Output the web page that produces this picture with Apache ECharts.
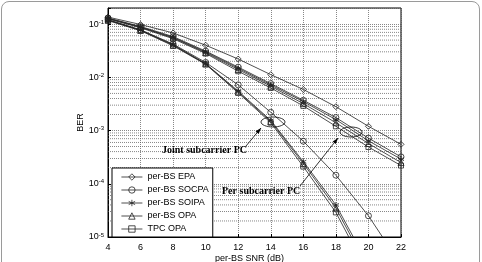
<!DOCTYPE html>
<html>
<head>
<meta charset="utf-8">
<script src="https://cdn.jsdelivr.net/npm/echarts@6/dist/echarts.min.js"></script>
<style>
html, body { margin: 0; padding: 0; background: #fff; overflow: hidden; }
#frame { position: absolute; left: 1px; top: 1px; width: 477px; height: 300px; border: 1px solid #9a9a9a; border-radius: 8px; }
#chart { position: absolute; left: 0; top: 0; width: 482px; height: 262px; }
</style>
</head>
<body>
<div id="frame"></div>
<div id="chart"></div>
<script>
// SNR points (dB)
const snr = [4, 6, 8, 10, 12, 14, 16, 18, 20, 22]

// per subcarrier power constraint curves
const perEPA = [0.135, 0.098, 0.068, 0.040, 0.022, 0.0112, 0.0059, 0.0028, 0.0012, 0.00055]
const perSOCPA = [0.130, 0.090, 0.058, 0.031, 0.0155, 0.0076, 0.0037, 0.00175, 0.00072, 0.00032]
const perSOIPA = [0.128, 0.088, 0.056, 0.030, 0.0148, 0.0072, 0.0035, 0.0016, 0.00064, 0.00029]
const perOPA = [0.127, 0.087, 0.055, 0.029, 0.0140, 0.0068, 0.0032, 0.0014, 0.00057, 0.00025]
const perTPC = [0.125, 0.085, 0.053, 0.028, 0.0130, 0.0063, 0.0029, 0.0012, 0.00049, 0.00022]

// joint subcarrier power constraint curves
const jointSOCPA = [0.120, 0.078, 0.042, 0.019, 0.0072, 0.0022, 0.00063, 0.000145, 0.000025, 0.000003]
const jointSOIPA = [0.120, 0.077, 0.041, 0.018, 0.0055, 0.00155, 0.00026, 0.00004, 0.000003]
const jointOPA = [0.118, 0.076, 0.040, 0.0178, 0.0053, 0.00148, 0.00024, 0.000035, 0.0000025]
const jointTPC = [0.116, 0.075, 0.039, 0.0175, 0.0051, 0.0014, 0.00021, 0.000029, 0.000002]

const legendNames = ['per-BS EPA', 'per-BS SOCPA', 'per-BS SOIPA', 'per-BS OPA', 'TPC OPA']

// minor log grid values (2..9 per decade)
const minorY = []
for (const d of [1e-5, 1e-4, 1e-3, 1e-2, 1e-1]) {
  for (const k of [2, 3, 4, 5, 6, 7, 8, 9]) if (k * d < 0.2) minorY.push(k * d)
}

const ink = '#222'
const gridLine = { color: '#555', type: [1, 1], width: 0.7 }
const asterisk = 'path://M5,0L5,10M0.7,2.5L9.3,7.5M0.7,7.5L9.3,2.5'

// open markers: transparent fill, thin outline
const makeSeries = (name, values, symbol) => ({
  type: 'line',
  name,
  data: values.map((v, i) => [snr[i], v]),
  symbol,
  symbolSize: symbol === 'rect' ? 5 : 6,
  lineStyle: { color: ink, width: 0.8 },
  itemStyle: { color: 'rgba(255,255,255,0)', borderColor: ink, borderWidth: 0.8 },
  z: 3,
})

const minorSeries = minorY.map((v) => ({
  type: 'line',
  data: [[4, v], [22, v]],
  symbol: 'none',
  silent: true,
  lineStyle: gridLine,
  z: 1,
}))

const chart = echarts.init(document.getElementById('chart'))

// small arrow head at (x2, y2)
const arrowHead = (x1, y1, x2, y2) => {
  const a = Math.atan2(y2 - y1, x2 - x1)
  const L = 6, W = 2
  const bx = x2 - L * Math.cos(a), by = y2 - L * Math.sin(a)
  return [[x2, y2], [bx + W * Math.sin(a), by - W * Math.cos(a)], [bx - W * Math.sin(a), by + W * Math.cos(a)]]
}

const annot = { stroke: '#000', lineWidth: 0.8, fill: null }
const labelFont = 'bold 10px "Liberation Serif", "Times New Roman", serif'

chart.setOption({
  animation: false,
  grid: {
    left: 108, right: 81, top: 8, bottom: 25,
    outerBoundsMode: 'none',
    containLabel: false,
    show: true, borderColor: '#000', borderWidth: 1,
  },
  xAxis: {
    type: 'value',
    min: 4,
    max: 22,
    interval: 2,
    name: 'per-BS SNR (dB)',
    nameLocation: 'middle',
    nameGap: 17,
    nameMoveOverlap: false,
    nameTextStyle: { fontSize: 9, color: '#000', fontFamily: 'Liberation Sans', padding: [0, 10, 0, 0] },
    axisLine: { lineStyle: { color: '#000' } },
    axisTick: { inside: true, length: 3, lineStyle: { color: '#000' } },
    axisLabel: { fontSize: 9, color: '#000', fontFamily: 'Liberation Sans', margin: 6 },
    splitLine: { show: true, lineStyle: gridLine },
  },
  yAxis: {
    type: 'log',
    min: 1e-5,
    max: 0.2,
    name: 'BER',
    nameLocation: 'middle',
    nameGap: 23,
    nameMoveOverlap: false,
    nameTextStyle: { fontSize: 9, color: '#000', fontFamily: 'Liberation Sans' },
    axisLine: { lineStyle: { color: '#000' } },
    axisTick: { inside: true, length: 3, lineStyle: { color: '#000' } },
    axisLabel: {
      color: '#000',
      margin: 4,
      formatter: (v) => {
        const e = Math.log10(v)
        const r = Math.round(e)
        if (Math.abs(e - r) > 1e-6) return ''
        return '{b|10}{s|' + r + '}'
      },
      rich: {
        b: { fontSize: 9, fontFamily: 'Liberation Sans', lineHeight: 10 },
        s: { fontSize: 6, fontFamily: 'Liberation Sans', lineHeight: 10, verticalAlign: 'top' },
      },
    },
    splitLine: { show: true, lineStyle: gridLine },
  },
  legend: {
    orient: 'vertical',
    left: 112,
    top: 168,
    data: legendNames,
    itemWidth: 21,
    itemHeight: 8,
    itemGap: 3,
    itemTextGap: 4,
    padding: [4, 4, 3, 9],
    backgroundColor: '#fff',
    borderColor: '#000',
    borderWidth: 1,
    itemStyle: { color: 'rgba(255,255,255,0)', borderColor: ink, borderWidth: 0.8 },
    lineStyle: { color: ink, width: 0.8 },
    textStyle: { fontSize: 9, lineHeight: 10, color: '#000', fontFamily: 'Liberation Sans' },
  },
  series: [
    ...minorSeries,
    makeSeries('per-BS EPA', perEPA, 'diamond'),
    makeSeries('per-BS SOCPA', perSOCPA, 'circle'),
    makeSeries('per-BS SOIPA', perSOIPA, asterisk),
    makeSeries('per-BS OPA', perOPA, 'triangle'),
    makeSeries('TPC OPA', perTPC, 'rect'),
    makeSeries('per-BS SOCPA', jointSOCPA, 'circle'),
    makeSeries('per-BS SOIPA', jointSOIPA, asterisk),
    makeSeries('per-BS OPA', jointOPA, 'triangle'),
    makeSeries('TPC OPA', jointTPC, 'rect'),
  ],
  graphic: [
    { type: 'ellipse', shape: { cx: 273, cy: 122, rx: 12, ry: 5 }, style: annot, z: 10 },
    { type: 'ellipse', shape: { cx: 351, cy: 132, rx: 11, ry: 5 }, style: annot, z: 10 },
    { type: 'line', shape: { x1: 246, y1: 146, x2: 261, y2: 128 }, style: annot, z: 10 },
    { type: 'polygon', shape: { points: arrowHead(246, 146, 261, 128) }, style: { fill: '#000' }, z: 10 },
    { type: 'line', shape: { x1: 300, y1: 186, x2: 338, y2: 138 }, style: annot, z: 10 },
    { type: 'polygon', shape: { points: arrowHead(300, 186, 338, 138) }, style: { fill: '#000' }, z: 10 },
    { type: 'text', left: 162, top: 145, style: { text: 'Joint subcarrier PC', font: labelFont, fill: '#000' }, z: 10 },
    { type: 'text', left: 222, top: 186, style: { text: 'Per subcarrier PC', font: labelFont, fill: '#000' }, z: 10 },
  ],
})
</script>
</body>
</html>
